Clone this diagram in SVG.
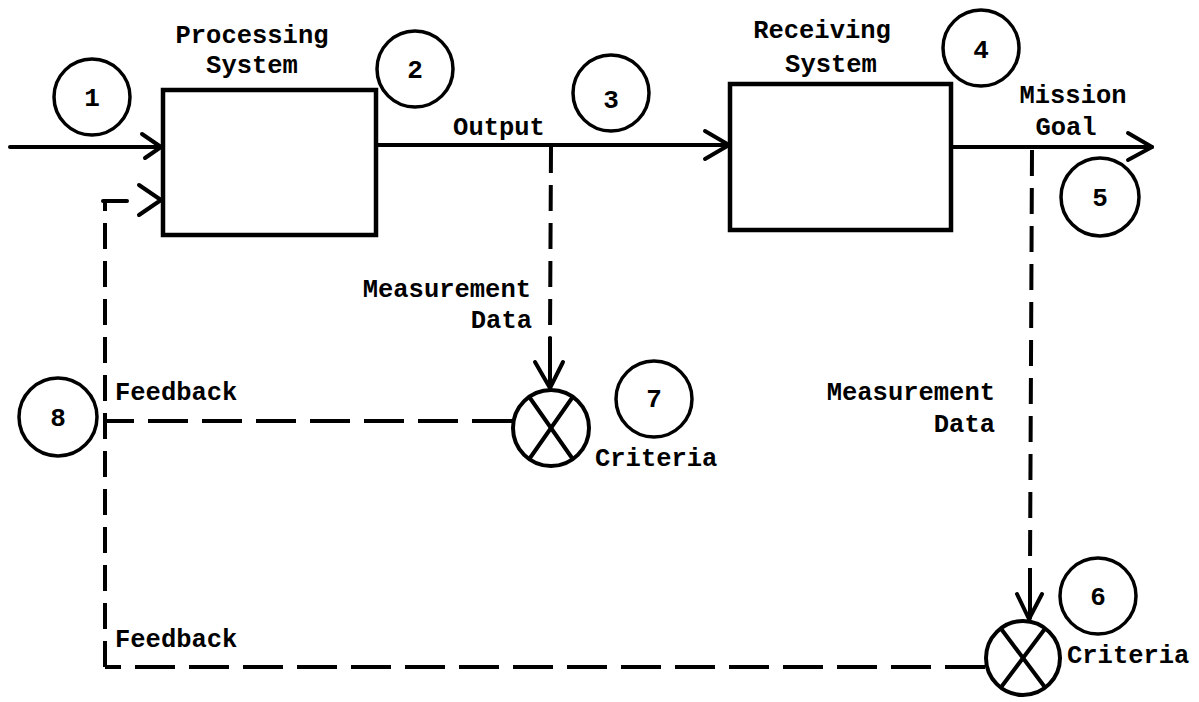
<svg xmlns="http://www.w3.org/2000/svg" width="1199" height="702" viewBox="0 0 1199 702">
  <style>
    .box { fill: none; stroke: #000; stroke-width: 4.5; }
    .solid { fill: none; stroke: #000; stroke-width: 4; stroke-linecap: round; stroke-linejoin: round; }
    .dashv { fill: none; stroke: #000; stroke-width: 4; stroke-dasharray: 26 12; }
    .dashh { fill: none; stroke: #000; stroke-width: 4; stroke-dasharray: 40 14; }
    .tag { fill: none; stroke: #000; stroke-width: 3.5; }
    .cmp { fill: #fff; stroke: #000; stroke-width: 4; }
    .lbl { font-family: "Liberation Mono", "DejaVu Sans Mono", monospace; font-size: 25.5px; font-weight: bold; fill: #000; }
    .num { font-family: "Liberation Mono", "DejaVu Sans Mono", monospace; font-size: 26px; font-weight: bold; fill: #000; text-anchor: middle; }
  </style>
  <rect width="1199" height="702" fill="#fff"/>

  <!-- connectors -->
  <g id="connectors">
    <!-- input into processing system -->
    <line class="solid" x1="10" y1="147" x2="161" y2="147"/>
    <polyline class="solid" points="142,134 161,147 145,158"/>
    <!-- output to receiving system -->
    <line class="solid" x1="376" y1="145" x2="729" y2="145"/>
    <polyline class="solid" points="705,131 729,145 705,159"/>
    <!-- mission goal -->
    <line class="solid" x1="951" y1="147" x2="1152" y2="147"/>
    <polyline class="solid" points="1128,133 1152,147 1128,160"/>
    <!-- output measurement data to criteria 7 -->
    <line class="dashv" x1="551" y1="147" x2="550" y2="340"/>
    <line class="solid" x1="550" y1="338" x2="550" y2="388"/>
    <polyline class="solid" points="535,362 550,388 563,362"/>
    <!-- mission goal measurement data to criteria 6 -->
    <line class="dashv" x1="1032" y1="150" x2="1030" y2="570"/>
    <line class="solid" x1="1030" y1="570" x2="1030" y2="618"/>
    <polyline class="solid" points="1017,594 1029,619 1042,594"/>
    <!-- feedback from criteria 7 -->
    <line class="dashh" x1="512" y1="421" x2="105" y2="421"/>
    <!-- feedback from criteria 6 and return loop -->
    <line class="dashh" x1="985" y1="667" x2="105" y2="667"/>
    <line class="dashv" x1="105" y1="667" x2="105" y2="201"/>
    <line class="solid" x1="103" y1="201" x2="127" y2="201"/>
    <polyline class="solid" points="139,185 161,200 139,215"/>
  </g>

  <!-- blocks -->
  <g id="processing">
    <rect class="box" x="163" y="90" width="213" height="145"/>
    <text class="lbl" x="252" y="43" text-anchor="middle">Processing</text>
    <text class="lbl" x="252" y="73" text-anchor="middle">System</text>
  </g>
  <g id="receiving">
    <rect class="box" x="730" y="84" width="221" height="146"/>
    <text class="lbl" x="822" y="38" text-anchor="middle">Receiving</text>
    <text class="lbl" x="831" y="72" text-anchor="middle">System</text>
  </g>

  <!-- comparators -->
  <g id="criteria7">
    <circle class="cmp" cx="551" cy="428" r="38"/>
    <line class="solid" x1="530" y1="398" x2="572" y2="458"/>
    <line class="solid" x1="572" y1="398" x2="530" y2="458"/>
    <text class="lbl" x="595" y="466">Criteria</text>
  </g>
  <g id="criteria6">
    <circle class="cmp" cx="1023" cy="658" r="37"/>
    <line class="solid" x1="1002" y1="630" x2="1044" y2="686"/>
    <line class="solid" x1="1044" y1="630" x2="1002" y2="686"/>
    <text class="lbl" x="1067" y="663">Criteria</text>
  </g>

  <!-- flow labels -->
  <g id="labels">
    <text class="lbl" x="499" y="135" text-anchor="middle">Output</text>
    <text class="lbl" x="1073" y="103" text-anchor="middle">Mission</text>
    <text class="lbl" x="1066" y="135" text-anchor="middle">Goal</text>
    <text class="lbl" x="531" y="297" text-anchor="end">Measurement</text>
    <text class="lbl" x="532" y="328" text-anchor="end">Data</text>
    <text class="lbl" x="995" y="400" text-anchor="end">Measurement</text>
    <text class="lbl" x="995" y="432" text-anchor="end">Data</text>
    <text class="lbl" x="115" y="400">Feedback</text>
    <text class="lbl" x="115" y="647">Feedback</text>
  </g>

  <!-- numbered tags -->
  <g id="tag1"><circle class="tag" cx="92" cy="97" r="38"/><text class="num" x="92" y="106">1</text></g>
  <g id="tag2"><circle class="tag" cx="415" cy="69" r="38"/><text class="num" x="415" y="78">2</text></g>
  <g id="tag3"><circle class="tag" cx="611" cy="93" r="38"/><text class="num" x="611" y="108">3</text></g>
  <g id="tag4"><circle class="tag" cx="981" cy="48" r="38"/><text class="num" x="981" y="58">4</text></g>
  <g id="tag5"><circle class="tag" cx="1100" cy="197" r="39"/><text class="num" x="1100" y="206">5</text></g>
  <g id="tag6"><circle class="tag" cx="1098" cy="596" r="38"/><text class="num" x="1098" y="605">6</text></g>
  <g id="tag7"><circle class="tag" cx="654" cy="399" r="38"/><text class="num" x="654" y="407">7</text></g>
  <g id="tag8"><circle class="tag" cx="58" cy="417" r="39"/><text class="num" x="58" y="426">8</text></g>
</svg>
